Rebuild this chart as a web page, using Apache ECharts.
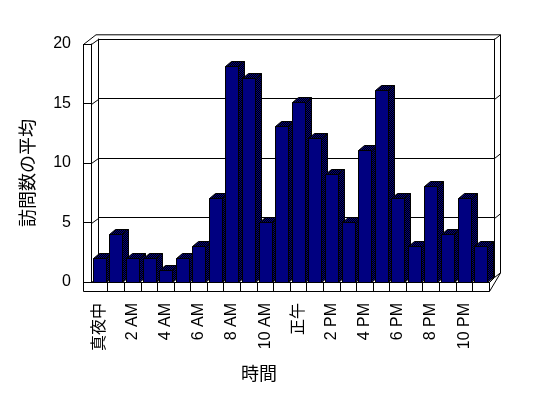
<!DOCTYPE html>
<html>
<head>
<meta charset="utf-8">
<script src="https://cdn.jsdelivr.net/npm/echarts@6/dist/echarts.min.js"></script>
<style>
html, body { margin: 0; padding: 0; background: #fff; }
#main { width: 548px; height: 398px; }
</style>
</head>
<body>
<div id="main"></div>
<script>
// 時間ごとの訪問数の平均
var hours = ['真夜中', '1 AM', '2 AM', '3 AM', '4 AM', '5 AM', '6 AM', '7 AM', '8 AM', '9 AM', '10 AM', '11 AM',
             '正午', '1 PM', '2 PM', '3 PM', '4 PM', '5 PM', '6 PM', '7 PM', '8 PM', '9 PM', '10 PM', '11 PM'];
var visits = [2, 4, 2, 2, 1, 2, 3, 7, 18, 17, 5, 13, 15, 12, 9, 5, 11, 16, 7, 3, 8, 4, 7, 3];
var yTicks = [0, 5, 10, 15, 20];

var cjk = '"Liberation Sans", "Noto Sans CJK JP", sans-serif';

// 3D枠のレイアウト
var L = 91, R = 489, T = 44, B = 282;   // 前面
var DX = 7, DY = -5;                      // 奥行き
var WALL = 8, FLOOR = 9;

// 上面・側面の網掛け
var cv = document.createElement('canvas');
cv.width = 2; cv.height = 2;
var cx = cv.getContext('2d');
cx.fillStyle = '#000000'; cx.fillRect(0, 0, 2, 2);
cx.fillStyle = '#000080'; cx.fillRect(0, 0, 1, 1); cx.fillRect(1, 1, 1, 1);
var dither = { image: cv, repeat: 'repeat' };

function renderBar(params, api) {
    var p = api.coord([api.value(0), api.value(1)]);
    var base = api.coord([api.value(0), 0]);
    var w = Math.round(api.size([1, 0])[0] * 0.8);
    var x0 = Math.round(p[0] - w / 2) + 0.5, x1 = x0 + w;
    var yt = Math.round(p[1]) + 0.5, yb = Math.round(base[1]) + 0.5;
    var dx = 6, dy = -5;
    var st = { fill: dither, stroke: '#000', lineWidth: 1 };
    return {
        type: 'group',
        children: [
            { type: 'polygon', shape: { points: [[x1, yb], [x1 + dx, yb + dy], [x1 + dx, yt + dy], [x1, yt]] }, style: st },
            { type: 'polygon', shape: { points: [[x0, yt], [x0 + dx, yt + dy], [x1 + dx, yt + dy], [x1, yt]] }, style: st },
            { type: 'rect', shape: { x: x0, y: yt, width: x1 - x0, height: yb - yt }, style: { fill: '#000080', stroke: '#000', lineWidth: 1 } }
        ]
    };
}

var myChart = echarts.init(document.getElementById('main'));
var option = {
    animation: false,
    backgroundColor: '#fff',
    grid: [
        { left: L, top: T, width: R - L, height: B - T },
        { left: L + DX, top: T + DY, width: R - L - 2, height: B - T }
    ],
    xAxis: [
        {
            type: 'category', gridIndex: 0, data: hours, boundaryGap: true,
            axisLine: { lineStyle: { color: '#000', width: 1 } },
            axisTick: { show: true, length: FLOOR, interval: function (i) { return i !== 0; }, lineStyle: { color: '#000' } },
            axisLabel: { interval: 1, rotate: 90, margin: 21, color: '#000', fontSize: 16, fontFamily: cjk },
            name: '時間', nameLocation: 'middle', nameGap: 84,
            nameTextStyle: { color: '#000', fontSize: 18, fontFamily: cjk, padding: [0, 62, 0, 0] }
        },
        { type: 'value', gridIndex: 1, show: false, min: 0, max: 1 }
    ],
    yAxis: [
        {
            type: 'value', gridIndex: 0, min: 0, max: 20, interval: 5,
            axisLine: { show: true, lineStyle: { color: '#000', width: 1 } },
            axisTick: { show: true, length: WALL, lineStyle: { color: '#000' } },
            axisLabel: { margin: 20, color: '#000', fontSize: 16, fontFamily: cjk },
            splitLine: { show: false },
            name: '訪問数の平均', nameLocation: 'middle', nameRotate: 90, nameGap: 53,
            nameTextStyle: { color: '#000', fontSize: 18, fontFamily: cjk, padding: [0, 20, 0, 0] }
        },
        { type: 'value', gridIndex: 0, min: 0, max: 19.87, show: false },
        {
            type: 'value', gridIndex: 1, min: 0, max: 20, interval: 5, position: 'left',
            axisLine: { show: true, lineStyle: { color: '#000', width: 1 } },
            axisTick: { show: false }, axisLabel: { show: false },
            splitLine: { show: true, lineStyle: { color: '#000', width: 1 } }
        },
        {
            type: 'value', gridIndex: 1, min: 0, max: 20, interval: 5, position: 'right',
            axisLine: { show: true, lineStyle: { color: '#000', width: 1 } },
            axisTick: { show: false }, axisLabel: { show: false }, splitLine: { show: false }
        }
    ],
    series: [
        {
            type: 'custom', xAxisIndex: 0, yAxisIndex: 1, z: 5,
            renderItem: renderBar,
            data: visits.map(function (v, i) { return [i, v]; })
        }
    ]
};
myChart.setOption(option);

// 壁と床の枠線
var bx = R - 2 + DX;           // 奥の壁の右端
var ox = bx + 6.5, oy = T + DY - 4.7;
function ln(x1, y1, x2, y2) {
    return { type: 'line', z: 1, silent: true,
             shape: { x1: x1, y1: y1, x2: x2, y2: y2 },
             style: { stroke: '#000', lineWidth: 1 } };
}
var g = [];
var xl = L - WALL + 0.5;
g.push(ln(xl, T + 0.5, xl, B + FLOOR + 0.5));
g.push(ln(xl, T + 0.5, L + 5, oy + 0.5));
g.push(ln(L + 5, oy + 0.5, ox, oy + 0.5));
g.push(ln(ox, oy + 0.5, ox, B + DY - 4));
g.push(ln(xl, B + FLOOR + 0.5, R + 0.5, B + FLOOR + 0.5));
g.push(ln(R + 0.5, B + 0.5, R + 0.5, B + FLOOR + 0.5));
g.push(ln(R + 0.5, B + FLOOR + 0.5, ox, B + DY - 4));
g.push(ln(R + 0.5, B + 0.5, bx + 0.5, B + DY + 0.5));
yTicks.forEach(function (v) {
    var yf = Math.round(myChart.convertToPixel({ yAxisIndex: 0 }, v)) + 0.5;
    var yb = Math.round(myChart.convertToPixel({ yAxisIndex: 2 }, v)) + 0.5;
    g.push(ln(L + 0.5, yf, L + DX + 0.5, yb));
    g.push(ln(bx + 0.5, yb, ox, yb - 4.7));
});
myChart.setOption({ graphic: g });
</script>
</body>
</html>
